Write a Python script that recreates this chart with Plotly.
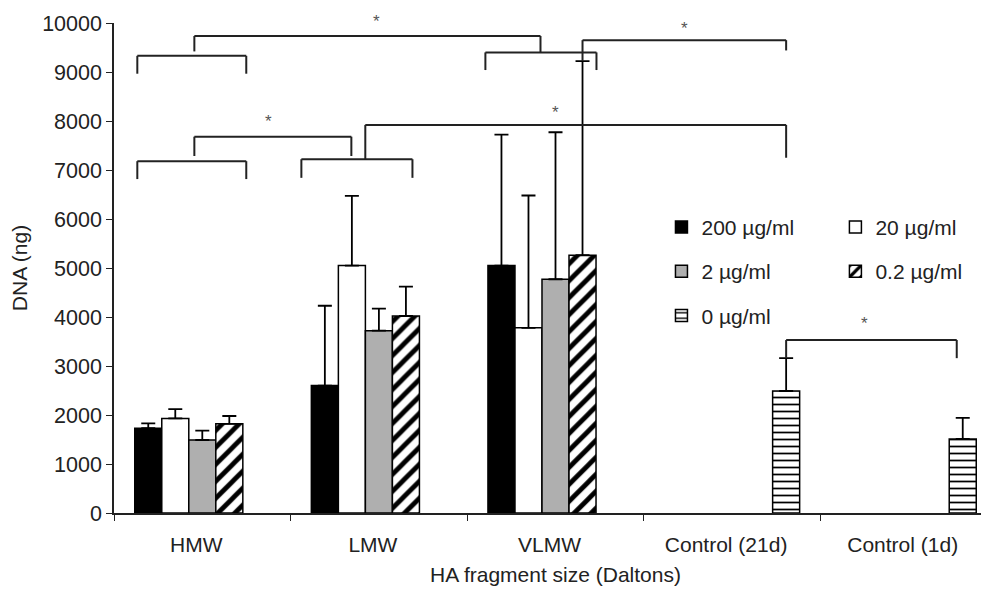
import plotly.graph_objects as go

# ---------------- data ----------------
categories = ["HMW", "LMW", "VLMW", "Control (21d)", "Control (1d)"]
series_names = ["200 µg/ml", "20 µg/ml", "2 µg/ml", "0.2 µg/ml", "0 µg/ml"]

v200 = [1730, 2600, 5050, None, None]
e200 = [100, 1630, 2670, None, None]
v20 = [1930, 5050, 3780, None, None]
e20 = [190, 1420, 2700, None, None]
v2 = [1490, 3720, 4770, None, None]
e2 = [190, 450, 3000, None, None]
v02 = [1820, 4020, 5260, None, None]
e02 = [160, 600, 3960, None, None]
v0 = [None, None, None, 2490, 1510]
e0 = [None, None, None, 670, 430]

y_ticks = [0, 1000, 2000, 3000, 4000, 5000, 6000, 7000, 8000, 9000, 10000]
y_ticktext = [str(t) for t in y_ticks]
Y_MAX = 10000

# significance brackets: polylines as (x, y) in (category index, ng)
brackets = [
    [(-0.368, 6815), (-0.368, 7180), (0.249, 7180), (0.249, 6815)],
    [(0.561, 6840), (0.561, 7220), (1.19, 7220), (1.19, 6840)],
    [(-0.045, 7285), (-0.045, 7680), (0.844, 7680), (0.844, 7285)],
    [(0.923, 7220), (0.923, 7920), (3.306, 7920), (3.306, 7250)],
    [(-0.368, 8965), (-0.368, 9330), (0.249, 9330), (0.249, 8965)],
    [(1.603, 9040), (1.603, 9400), (2.232, 9400), (2.232, 9040)],
    [(-0.045, 9420), (-0.045, 9735), (1.915, 9735), (1.915, 9400)],
    [(2.153, 9224), (2.153, 9650), (3.306, 9650), (3.306, 9440)],
    [(3.306, 3160), (3.306, 3530), (4.272, 3530), (4.272, 3160)],
]
stars = [(0.985, 10260), (0.374, 7990), (2.0, 8170), (2.73, 9880), (3.75, 3870)]

FONT = "Liberation Sans, Arial, Helvetica, sans-serif"
INK = "#222222"

fig = go.Figure()

def add_bar(name, vals, errs, color, pattern, legend, group):
    fig.add_trace(go.Bar(
        x=categories, y=vals, name=name,
        marker=dict(color=color, line=dict(color="black", width=1.5), pattern=pattern),
        error_y=dict(type="data", array=errs, arrayminus=[0 if e is not None else None for e in errs],
                     symmetric=False, color="black", thickness=1.8, width=7),
        legend=legend, legendgroup=group,
    ))

add_bar(series_names[0], v200, e200, "black", None, "legend", "a")
add_bar(series_names[1], v20, e20, "white", None, "legend2", "b")
add_bar(series_names[2], v2, e2, "#afafaf", None, "legend", "c")
add_bar(series_names[3], v02, e02, "white",
        dict(shape="/", fgcolor="black", bgcolor="white", size=12, solidity=0.4, fillmode="replace"),
        "legend2", "d")
add_bar(series_names[4], v0, e0, "white",
        dict(shape="-", fgcolor="black", bgcolor="white", size=7, solidity=0.25, fillmode="replace"),
        "legend", "e")

shapes = []
for poly in brackets:
    for (x0, y0), (x1, y1) in zip(poly[:-1], poly[1:]):
        shapes.append(dict(type="line", xref="x", yref="y", x0=x0, y0=y0, x1=x1, y1=y1,
                           line=dict(color=INK, width=2)))

annotations = []
for sx, sy in stars:
    if sy > Y_MAX:
        # above the axis range: place relative to the y domain so it is still drawn
        annotations.append(dict(x=sx, y=sy / Y_MAX, xref="x", yref="y domain", text="*",
                                showarrow=False, font=dict(family=FONT, size=17, color="#555555")))
    else:
        annotations.append(dict(x=sx, y=sy, xref="x", yref="y", text="*", showarrow=False,
                                font=dict(family=FONT, size=17, color="#555555")))

legend_common = dict(
    font=dict(family=FONT, size=21, color=INK),
    bgcolor="rgba(0,0,0,0)", traceorder="grouped", tracegroupgap=14,
    xanchor="left", yanchor="top", itemwidth=30,
)

fig.update_layout(
    width=989, height=594,
    margin=dict(l=106, r=0, t=15, b=89),
    paper_bgcolor="white", plot_bgcolor="white",
    barmode="group", bargap=0.235, bargroupgap=0,
    font=dict(family=FONT, size=21, color=INK),
    showlegend=True,
    legend=dict(x=0.62, y=0.625, **legend_common),
    legend2=dict(x=0.817, y=0.625, **legend_common),
    shapes=shapes,
    annotations=annotations,
    xaxis=dict(
        range=[-0.5, 4.5], showline=True, linecolor=INK, linewidth=1.5,
        ticks="outside", tickson="boundaries", ticklen=6, tickcolor=INK,
        tickfont=dict(family=FONT, size=21, color=INK),
        ticklabelstandoff=12, ticklabelshift=-6,
        title=dict(text="HA fragment size (Daltons)", font=dict(family=FONT, size=21, color=INK),
                   standoff=12),
        showgrid=False, zeroline=False, automargin=False,
    ),
    yaxis=dict(
        range=[0, Y_MAX], tickvals=y_ticks, ticktext=y_ticktext,
        showline=True, linecolor=INK, linewidth=1.5,
        ticks="outside", ticklen=6, tickcolor=INK,
        tickfont=dict(family=FONT, size=21.5, color=INK),
        title=dict(text="DNA (ng)", font=dict(family=FONT, size=21, color=INK), standoff=16),
        showgrid=False, zeroline=False, automargin=False,
    ),
)

fig.write_html("out.html")
